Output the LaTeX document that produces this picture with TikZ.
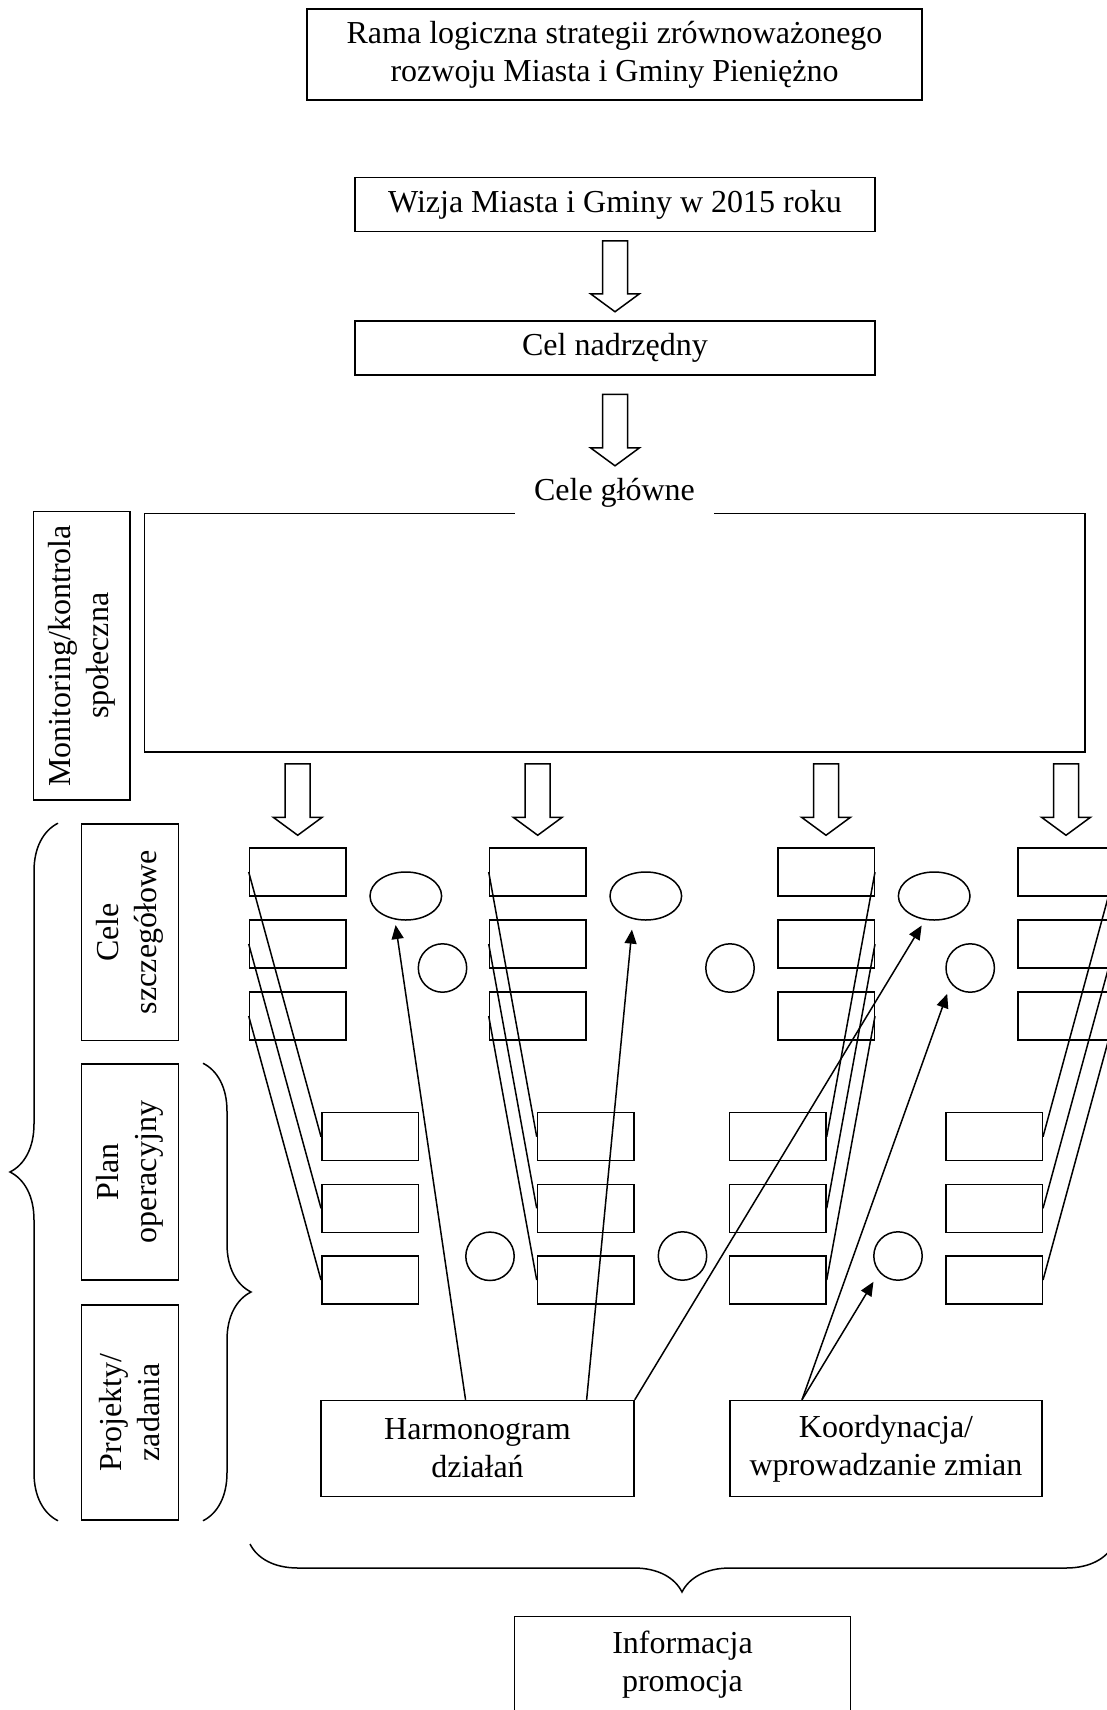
\documentclass[tikz,border=0pt]{standalone}
\usepackage{fontspec}
\setmainfont{Liberation Serif}
\usetikzlibrary{arrows.meta,positioning,shapes.geometric,calc,decorations.pathreplacing}

\newcommand{\blockarrow}[2]{%
  \draw[blockarr] let \p1=#1, \p2=#2 in
    (\x1-12.5pt,\y1) -- (\x1+12.5pt,\y1) -- (\x1+12.5pt,\y2+18pt)
    -- (\x1+24.5pt,\y2+18pt) -- (\x1,\y2) -- (\x1-24.5pt,\y2+18pt)
    -- (\x1-12.5pt,\y2+18pt) -- cycle;}

\begin{document}
\begin{tikzpicture}[
        x=1pt, y=-1pt,
        font=\fontsize{32}{38}\selectfont,
        box/.style={draw, line width=1.5pt, align=center, inner sep=0pt},
        sidebox/.style={box, rotate=90, minimum height=96.7pt},
        cell/.style={draw, line width=1.5pt, minimum width=96.5pt, minimum height=48pt, inner sep=0pt},
        oval/.style={draw, ellipse, line width=1.5pt, minimum width=71.6pt, minimum height=48pt, inner sep=0pt},
        dot/.style={draw, circle, line width=1.5pt, minimum size=48.4pt, inner sep=0pt},
        blockarr/.style={draw, line width=1.5pt, fill=white},
        link/.style={line width=1.5pt},
        ptr/.style={line width=1.5pt, -{Triangle[length=14pt,width=12pt]}},
        brc/.style={line width=1.5pt, decorate, decoration={brace, amplitude=48pt}}
      ]
        \useasboundingbox (0,0) rectangle (1106,1710);
        \node[box, minimum width=615pt, minimum height=91pt] (rama) at (614.5,54.5) {Rama logiczna strategii zrównoważonego\\rozwoju Miasta i Gminy Pieniężno};
        \node[box, minimum width=520pt, minimum height=54pt] (wizja) at (615,204.5) {Wizja Miasta i Gminy w 2015 roku};
        \node[box, minimum width=520pt, minimum height=54pt] (cel) at (615,348) {Cel nadrzędny};
        \node[box, minimum width=940.5pt, minimum height=238.4pt] (glowne) at (614.75,632.8) {};
        \node[fill=white, minimum width=199pt, minimum height=46pt, inner sep=0pt] (glbl) at (614.5,493) {Cele główne};
        \blockarrow{($(wizja.south)+(0,8.5)$)}{($(cel.north)+(0,-8.5)$)}
        \blockarrow{($(cel.south)+(0,18.5)$)}{($(glbl.north)+(0,-4)$)}

        \node[sidebox, minimum width=288.3pt] (monit) at (81.7,655.8) {Monitoring/kontrola\\społeczna};
        \node[sidebox, minimum width=216.7pt] (szcz) at (130,932.3) {Cele\\szczegółowe};
        \node[sidebox, minimum width=216pt] (plan) at (130,1172) {Plan\\operacyjny};
        \node[sidebox, minimum width=215pt] (proj) at (130,1412.5) {Projekty/\\zadania};

        \foreach \c/\x in {1/297.7,2/537.7,3/826,4/1066}
          \foreach \r/\y in {1/872,2/944,3/1016}
            \node[cell] (u\c\r) at (\x,\y) {};
        \foreach \c/\x in {1/370,2/585.7,3/777.7,4/994}
          \foreach \r/\y in {1/1136.7,2/1208.3,3/1280}
            \node[cell] (l\c\r) at (\x,\y) {};
        \foreach \c in {1,...,4}{
          \blockarrow{($(glowne.south -| u\c1.north)+(0,11)$)}{($(u\c1.north)+(0,-12)$)}
        }

        \node[oval] (e1) at (405.8,896) {};
        \node[oval] (e2) at (645.8,896) {};
        \node[oval] (e3) at (934.2,896) {};
        \node[dot] (c1) at (442.5,968) {};
        \node[dot] (c2) at (730,968) {};
        \node[dot] (c3) at (970.2,968) {};
        \node[dot] (d1) at (490,1256.3) {};
        \node[dot] (d2) at (682.5,1256) {};
        \node[dot] (d3) at (898,1256) {};

        \foreach \c in {1,2}
          \foreach \r in {1,2,3}
            \draw[link] (u\c\r.west) -- (l\c\r.west);
        \foreach \c in {3,4}
          \foreach \r in {1,2,3}
            \draw[link] (u\c\r.east) -- (l\c\r.east);

        \node[box, minimum width=313pt, minimum height=96pt] (harm) at (477.5,1448.5) {Harmonogram\\działań};
        \node[box, minimum width=312pt, minimum height=96pt] (koord) at (886,1448.5) {Koordynacja/\\wprowadzanie zmian};
        \node[box, minimum width=336.4pt, minimum height=96pt] (info) at (682.5,1664.5) {Informacja\\promocja};

        \draw[ptr, shorten >=5.5pt] ($(harm.north west)!0.462!(harm.north east)$) -- (e1.245);
        \draw[ptr, shorten >=10.5pt] ($(harm.north west)!0.847!(harm.north east)$) -- (e2.241);
        \draw[ptr, shorten >=6.5pt] (harm.north east) -- (e3.249);
        \draw[ptr, shorten >=10.8pt] ($(koord.north west)!0.232!(koord.north east)$) -- (c3.219);
        \draw[ptr, shorten >=11pt] ($(koord.north west)!0.232!(koord.north east)$) -- (d3.221);

        \draw[brc] ($(proj.west)+(-72,0)$) -- ($(szcz.east)+(-72,0)$);
        \draw[brc] ($(plan.east)+(73,0)$) -- ($(proj.west)+(73,0)$);
        \draw[brc] (1114,1544) -- (250,1544);
      \end{tikzpicture}
\end{document}
